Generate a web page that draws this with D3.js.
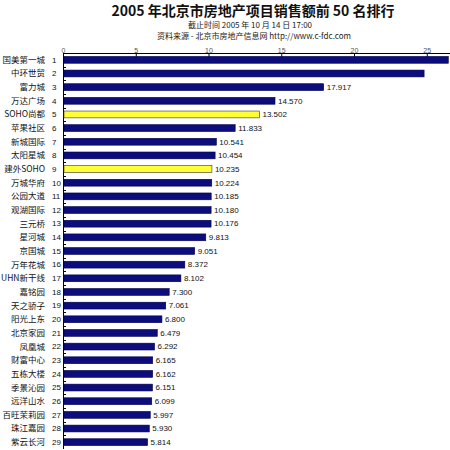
<!DOCTYPE html>
<html><head><meta charset="utf-8">
<script src="https://cdn.jsdelivr.net/npm/d3@7"></script>
<style>body{margin:0;background:#fff}</style>
</head><body><svg id="c" width="450" height="450"></svg>
<script>
const names = ["国美第一城","中环世贸","富力城","万达广场","SOHO尚都","苹果社区","新城国际","太阳星城","建外SOHO","万城华府","公园大道","观湖国际","三元桥","星河城","京国城","万年花城","UHN新干线","嘉铭园","天之骄子","阳光上东","北京家园","凤凰城","财富中心","五栋大楼","季景沁园","远洋山水","百旺茉莉园","珠江嘉园","紫云长河"];
const ranks = d3.range(1, 30);
const values = [26.48,24.818,17.917,14.570,13.502,11.833,10.541,10.454,10.235,10.224,10.185,10.180,10.176,9.813,9.051,8.372,8.102,7.300,7.061,6.800,6.479,6.292,6.165,6.162,6.151,6.099,5.997,5.930,5.814];
const highlighted = ["SOHO尚都","建外SOHO"];
const xTicks = [0,5,10,15,20,25];
const title = "2005 年北京市房地产项目销售额前 50 名排行";
const subtitle1 = "截止时间 2005 年 10 月 14 日 17:00";
const subtitle2 = "资料来源 - 北京市房地产信息网 http://www.c-fdc.com";

const W = 450, H = 450;
const mLeft = 63, mTop = 53;
const svg = d3.select("#c");
const cjk = "'Noto Sans CJK SC', 'Noto Sans', sans-serif";
const lat = "'Liberation Sans', Arial, sans-serif";

const x = d3.scaleLinear().domain([0, 26.8]).range([mLeft, mLeft + 26.8 * 14.55]);
const y = d3.scaleBand().domain(ranks).range([mTop, 449]).paddingInner(0.5).paddingOuter(0.25);
const step = y.step();

svg.append("text").attr("x", 253).attr("y", 16).attr("text-anchor", "middle")
  .attr("font-family", cjk).attr("font-size", 14).attr("font-weight", "bold").attr("fill", "#111").text(title);
svg.append("text").attr("x", 250).attr("y", 28).attr("text-anchor", "middle")
  .attr("font-family", cjk).attr("font-size", 8).attr("fill", "#222").text(subtitle1);
svg.append("text").attr("x", 254).attr("y", 38.5).attr("text-anchor", "middle")
  .attr("font-family", cjk).attr("font-size", 8).attr("fill", "#222").text(subtitle2);

// top axis
const gx = svg.append("g").attr("transform", `translate(0,${mTop})`)
  .call(d3.axisTop(x).tickValues(xTicks).tickSize(-4).tickPadding(-1).tickFormat(d3.format("d")));
gx.select(".domain").remove();
gx.selectAll("line").attr("stroke", "#000");
gx.selectAll("text").attr("font-family", lat).attr("font-size", 7).attr("fill", "#555").attr("dy", "-0.2em");
svg.append("line").attr("x1", mLeft).attr("x2", W).attr("y1", mTop + 0.5).attr("y2", mTop + 0.5).attr("stroke", "#000");
svg.append("line").attr("x1", mLeft + 0.5).attr("x2", mLeft + 0.5).attr("y1", mTop).attr("y2", 449).attr("stroke", "#000");

// left ticks at band boundaries
svg.append("g").selectAll("line").data(ranks.slice(1)).join("line")
  .attr("x1", mLeft).attr("x2", mLeft + 3)
  .attr("y1", d => Math.round(y(d) - step * 0.25) + 0.5).attr("y2", d => Math.round(y(d) - step * 0.25) + 0.5)
  .attr("stroke", "#000");

const data = names.map((n, i) => ({name: n, rank: ranks[i], value: values[i]}));

svg.append("g").selectAll("rect").data(data).join("rect")
  .attr("x", x(0) + 1).attr("y", d => y(d.rank))
  .attr("width", d => x(d.value) - x(0) - 1).attr("height", y.bandwidth())
  .attr("fill", d => highlighted.includes(d.name) ? "#ffff33" : "#0c0c7c")
  .attr("stroke", d => highlighted.includes(d.name) ? "#333" : "#00004a").attr("stroke-width", 0.6);

svg.append("g").selectAll("text").data(data.filter(d => x(d.value) + 28 < W)).join("text")
  .attr("x", d => x(d.value) + 3).attr("y", d => y(d.rank) + y.bandwidth() / 2)
  .attr("dy", "0.35em").attr("font-family", lat).attr("font-size", 8).attr("fill", "#111")
  .text(d => d3.format(".3f")(d.value));

svg.append("g").selectAll("text").data(data).join("text")
  .attr("x", 45).attr("y", d => y(d.rank) + y.bandwidth() / 2).attr("dy", "0.35em")
  .attr("text-anchor", "end").attr("font-family", cjk).attr("font-size", 8.5).attr("fill", "#111")
  .text(d => d.name);

svg.append("g").selectAll("text").data(data).join("text")
  .attr("x", 52).attr("y", d => y(d.rank) + y.bandwidth() / 2).attr("dy", "0.35em")
  .attr("font-family", lat).attr("font-size", 8).attr("fill", "#111")
  .text(d => d.rank);
</script></body></html>
